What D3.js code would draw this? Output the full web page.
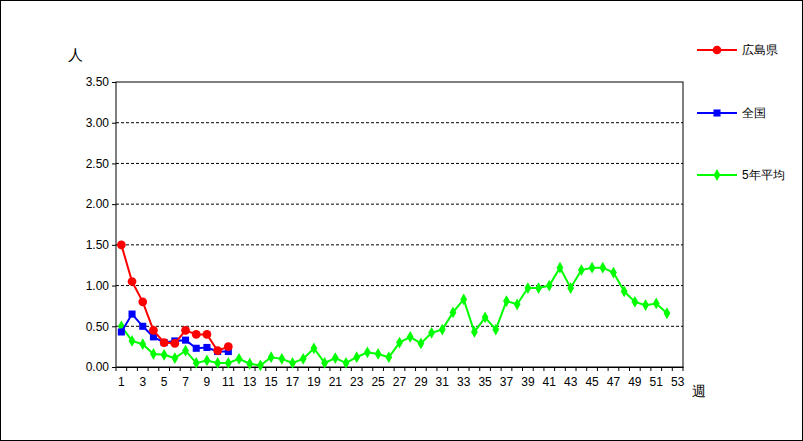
<!DOCTYPE html><html><head><meta charset="utf-8"><script src="https://cdn.jsdelivr.net/npm/d3@7"></script>
<style>body{margin:0;background:#fff}text{font-family:"Liberation Sans",Arial,sans-serif;font-size:12px}</style></head><body><svg id="c" width="803" height="441"></svg><script>
const weeks=d3.range(1,54);
const hiroshima=[1.50,1.05,0.80,0.45,0.30,0.29,0.45,0.40,0.40,0.20,0.25];
const national=[0.43,0.65,0.50,0.37,0.30,0.32,0.33,0.23,0.24,0.19,0.19];
const avg5=[0.50,0.32,0.28,0.16,0.15,0.11,0.20,0.05,0.08,0.05,0.05,0.10,0.04,0.02,0.12,0.10,0.05,0.10,0.23,0.05,0.11,0.05,0.12,0.18,0.16,0.12,0.30,0.37,0.29,0.42,0.46,0.67,0.83,0.43,0.61,0.46,0.81,0.77,0.97,0.97,1.00,1.22,0.97,1.19,1.22,1.22,1.16,0.93,0.80,0.76,0.78,0.66];
const yTicks=[0,0.5,1,1.5,2,2.5,3,3.5];
const names=["広島県","全国","5年平均"];
const svg=d3.select("#c");
svg.append("rect").attr("x",0.5).attr("y",0.5).attr("width",802).attr("height",440).attr("fill","#fff").attr("stroke","#000");
const L=116,R=683,T=82,B=367;
const x=d3.scaleBand().domain(weeks).range([L,R]);
const y=d3.scaleLinear().domain([0,3.5]).range([B,T]);
const cx=w=>x(w)+x.bandwidth()/2;
svg.append("g").selectAll("line").data(yTicks.slice(1,-1)).join("line").attr("x1",L).attr("x2",R).attr("y1",d=>y(d)).attr("y2",d=>y(d)).attr("stroke","#000").attr("stroke-dasharray","3,2");
svg.append("rect").attr("x",L).attr("y",T).attr("width",R-L).attr("height",B-T).attr("fill","none").attr("stroke","#000");
const ya=svg.append("g").attr("transform",`translate(${L},0)`).call(d3.axisLeft(y).tickValues(yTicks).tickFormat(d3.format(".2f")).tickSize(4));
ya.select(".domain").remove();
const xa=svg.append("g").attr("transform",`translate(0,${B})`).call(d3.axisBottom(x).tickValues(weeks).tickSize(0).tickFormat(d=>d%2?d:""));
xa.select(".domain").attr("stroke","#000");
xa.selectAll("text").attr("dy","1.3em");
svg.append("g").selectAll("line").data(d3.range(0,54)).join("line").attr("x1",i=>L+i*x.step()).attr("x2",i=>L+i*x.step()).attr("y1",B).attr("y2",B+4).attr("stroke","#000");
svg.selectAll(".tick text").attr("fill","#000");
svg.append("text").attr("x",68).attr("y",60).style("font-size","15px").text("人");
svg.append("text").attr("x",692).attr("y",396).style("font-size","14px").text("週");
const line=d3.line().x((d,i)=>cx(i+1)).y(d=>y(d));
const series=[{v:avg5,c:"#00ff00",s:d3.symbolDiamond,sz:40},{v:national,c:"#0000ff",s:d3.symbolSquare,sz:50},{v:hiroshima,c:"#ff0000",s:d3.symbolCircle,sz:60}];
series.forEach(o=>{
 svg.append("path").attr("d",line(o.v)).attr("fill","none").attr("stroke",o.c).attr("stroke-width",2);
 svg.append("g").selectAll("path").data(o.v).join("path").attr("transform",(d,i)=>`translate(${cx(i+1)},${y(d)})`).attr("d",d3.symbol(o.s,o.sz)).attr("fill",o.c);
});
const leg=[{n:names[0],c:"#ff0000",s:d3.symbolCircle,sz:60,y:50},{n:names[1],c:"#0000ff",s:d3.symbolSquare,sz:50,y:113},{n:names[2],c:"#00ff00",s:d3.symbolDiamond,sz:40,y:175}];
leg.forEach(o=>{
 svg.append("line").attr("x1",697).attr("x2",737).attr("y1",o.y).attr("y2",o.y).attr("stroke",o.c).attr("stroke-width",2);
 svg.append("path").attr("transform",`translate(717,${o.y})`).attr("d",d3.symbol(o.s,o.sz)).attr("fill",o.c);
 svg.append("text").attr("x",742).attr("y",o.y+4).text(o.n);
});
</script></body></html>
